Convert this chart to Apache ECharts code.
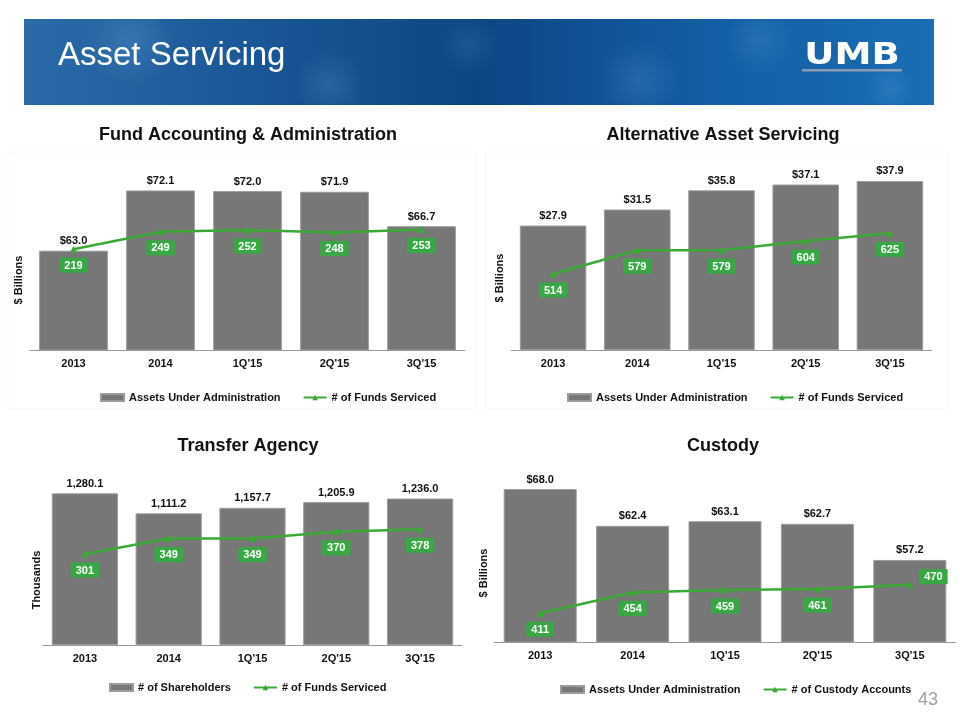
<!DOCTYPE html>
<html>
<head>
<meta charset="utf-8">
<title>Asset Servicing</title>
<script src="https://cdn.jsdelivr.net/npm/echarts@6/dist/echarts.min.js"></script>
<style>
	html, body { margin: 0; padding: 0; background: #fff; }
	#main { width: 960px; height: 720px; }
</style>
</head>
<body>
<div id="main"></div>
<script>
//数据
var categories = ['2013', '2014', "1Q'15", "2Q'15", "3Q'15"];

var fundAssets = [63.0, 72.1, 72.0, 71.9, 66.7];
var fundCount = [219, 249, 252, 248, 253];

var altAssets = [27.9, 31.5, 35.8, 37.1, 37.9];
var altFunds = [514, 579, 579, 604, 625];

var taShareholders = [1280.1, 1111.2, 1157.7, 1205.9, 1236.0];
var taFunds = [301, 349, 349, 370, 378];

var custodyAssets = [68.0, 62.4, 63.1, 62.7, 57.2];
var custodyAccounts = [411, 454, 459, 461, 470];

var font = 'Liberation Sans, Arial, sans-serif';
var barColor = '#777777';
var lineColor = '#3aaa35';
var boxColor = '#38a844';

function dollar(p) {
	return '$' + p.value.toFixed(1);
}

function thousands(p) {
	return p.value.toLocaleString('en-US', {
		minimumFractionDigits: 1,
		maximumFractionDigits: 1
	});
}

function barSeries(name, data, idx, fmt) {
	return {
		name: name,
		type: 'bar',
		xAxisIndex: idx,
		yAxisIndex: idx * 2,
		barCategoryGap: '21%',
		itemStyle: {
			color: barColor,
			borderColor: '#9c9c9c',
			borderWidth: 1
		},
		label: {
			show: true,
			position: 'top',
			distance: 4,
			color: '#111',
			fontFamily: font,
			fontWeight: 'bold',
			fontSize: 11,
			formatter: fmt
		},
		data: data
	};
}

function lineSeries(name, data, idx) {
	return {
		name: name,
		type: 'line',
		xAxisIndex: idx,
		yAxisIndex: idx * 2 + 1,
		symbol: 'triangle',
		symbolSize: 7,
		z: 5,
		itemStyle: {
			color: lineColor
		},
		lineStyle: {
			color: lineColor,
			width: 2.5
		},
		label: {
			show: true,
			position: 'bottom',
			distance: 5,
			color: '#fff',
			fontFamily: font,
			fontWeight: 'bold',
			fontSize: 11,
			lineHeight: 12,
			backgroundColor: boxColor,
			padding: [2, 5, 1, 5]
		},
		data: data
	};
}

//四个图的位置
var grids = [
	{ left: 30, right: 495, top: 160, bottom: 370 },
	{ left: 511, right: 28, top: 160, bottom: 370 },
	{ left: 43, right: 498, top: 470, bottom: 75 },
	{ left: 494, right: 4, top: 470, bottom: 78 }
];

var xAxes = grids.map(function(g, i) {
	return {
		type: 'category',
		gridIndex: i,
		data: categories,
		axisLine: { lineStyle: { color: '#9a9a9a', width: 1 } },
		axisTick: { length: 4, lineStyle: { color: '#9a9a9a' } },
		axisLabel: {
			color: '#111',
			fontFamily: font,
			fontWeight: 'bold',
			fontSize: 11,
			margin: 8
		}
	};
});

function hiddenY(grid, min, max) {
	return { type: 'value', gridIndex: grid, min: min, max: max, show: false };
}

var yAxes = [
	hiddenY(0, 48, 76.7), hiddenY(0, 45, 373),
	hiddenY(1, 0, 42.6), hiddenY(1, 307, 825),
	hiddenY(2, 0, 1477), hiddenY(2, 17, 563),
	hiddenY(3, 44.7, 70.9), hiddenY(3, 352, 706)
];

//最后一个点的标签放在右上
var custodyLine = custodyAccounts.map(function(v, i) {
	if(i == custodyAccounts.length - 1) {
		return { value: v, label: { position: 'right', distance: 6, offset: [0, -8] } };
	}
	return v;
});

function legendFor(left, top, barName, lineName) {
	return {
		left: left,
		top: top,
		itemWidth: 23,
		itemHeight: 7,
		itemGap: 22,
		textStyle: {
			color: '#111',
			fontFamily: font,
			fontWeight: 'bold',
			fontSize: 11
		},
		data: [{ name: barName, icon: 'rect' }, { name: lineName }]
	};
}

function label(x, y, txt, size, rotate) {
	return {
		type: 'text',
		x: x,
		y: y,
		rotation: rotate ? Math.PI / 2 : 0,
		style: {
			text: txt,
			fill: '#111',
			fontFamily: font,
			fontWeight: 'bold',
			fontSize: size,
			align: 'center',
			verticalAlign: 'middle'
		}
	};
}

//标题栏的斑驳纹理
function blob(cx, cy, r, op) {
	return {
		type: 'circle',
		shape: { cx: cx, cy: cy, r: r },
		style: {
			fill: new echarts.graphic.RadialGradient(0.5, 0.5, 0.5, [
				{ offset: 0, color: 'rgba(110,175,230,' + op + ')' },
				{ offset: 1, color: 'rgba(110,175,230,0)' }
			])
		},
		silent: true
	};
}

var header = [{
	type: 'rect',
	shape: { x: 24, y: 19, width: 910, height: 86 },
	style: {
		fill: new echarts.graphic.LinearGradient(0, 0, 1, 0, [
			{ offset: 0, color: '#2b6aa8' },
			{ offset: 0.25, color: '#1a5796' },
			{ offset: 0.5, color: '#0d4584' },
			{ offset: 0.75, color: '#135ea4' },
			{ offset: 1, color: '#1a6db4' }
		])
	}
},
	blob(130, 40, 45, 0.25),
	blob(330, 85, 35, 0.2),
	blob(470, 45, 30, 0.15),
	blob(640, 80, 40, 0.2),
	blob(760, 40, 35, 0.18),
	blob(890, 88, 25, 0.2),
{
	type: 'rect',
	shape: { x: 0, y: 0, width: 960, height: 19 },
	style: { fill: '#fff' }
}, {
	type: 'rect',
	shape: { x: 0, y: 105, width: 960, height: 20 },
	style: { fill: '#fff' }
}, {
	type: 'rect',
	shape: { x: 0, y: 19, width: 24, height: 86 },
	style: { fill: '#fff' }
}, {
	type: 'rect',
	shape: { x: 934, y: 19, width: 26, height: 86 },
	style: { fill: '#fff' }
}, {
	type: 'text',
	x: 58,
	y: 56,
	style: {
		text: 'Asset Servicing',
		fill: '#fff',
		fontFamily: font,
		fontSize: 33,
		verticalAlign: 'middle'
	}
}, {
	type: 'text',
	x: 852,
	y: 56,
	scaleX: 1.2,
	style: {
		text: 'UMB',
		fill: '#fff',
		fontFamily: 'DejaVu Sans, sans-serif',
		fontWeight: 'bold',
		fontSize: 31,
		align: 'center',
		verticalAlign: 'middle'
	}
}, {
	type: 'rect',
	shape: { x: 802, y: 69, width: 100, height: 2.5 },
	style: { fill: '#8b9cb2' }
}];

var frames = [{
	type: 'rect',
	shape: { x: 8, y: 152, width: 467, height: 257 },
	style: { fill: 'none', stroke: '#f7f7f7', lineWidth: 1 }
}, {
	type: 'rect',
	shape: { x: 486, y: 152, width: 461, height: 257 },
	style: { fill: 'none', stroke: '#f7f7f7', lineWidth: 1 }
}];

var texts = [
	label(248, 135, 'Fund Accounting & Administration', 18),
	label(723, 135, 'Alternative Asset Servicing', 18),
	label(248, 446, 'Transfer Agency', 18),
	label(723, 446, 'Custody', 18),
	label(19, 280, '$ Billions', 11, true),
	label(500, 278, '$ Billions', 11, true),
	label(37, 580, 'Thousands', 11, true),
	label(484, 573, '$ Billions', 11, true),
	{
		type: 'text',
		x: 938,
		y: 700,
		style: {
			text: '43',
			fill: '#a0a0a0',
			fontFamily: font,
			fontSize: 18,
			align: 'right',
			verticalAlign: 'middle'
		}
	}
];

var myChart = echarts.init(document.getElementById('main'));
myChart.setOption({
	animation: false,
	backgroundColor: '#fff',
	grid: grids,
	xAxis: xAxes,
	yAxis: yAxes,
	legend: [
		legendFor(95, 387, 'Assets Under Administration', '# of Funds Serviced'),
		legendFor(562, 387, 'Assets Under Administration', '# of Funds Serviced'),
		legendFor(104, 677, '# of Shareholders', '# of Funds Serviced'),
		legendFor(555, 679, 'Assets Under Administration', '# of Custody Accounts')
	],
	graphic: header.concat(frames, texts),
	series: [
		barSeries('Assets Under Administration', fundAssets, 0, dollar),
		lineSeries('# of Funds Serviced', fundCount, 0),
		barSeries('Assets Under Administration', altAssets, 1, dollar),
		lineSeries('# of Funds Serviced', altFunds, 1),
		barSeries('# of Shareholders', taShareholders, 2, thousands),
		lineSeries('# of Funds Serviced', taFunds, 2),
		barSeries('Assets Under Administration', custodyAssets, 3, dollar),
		lineSeries('# of Custody Accounts', custodyLine, 3)
	]
});
</script>
</body>
</html>
